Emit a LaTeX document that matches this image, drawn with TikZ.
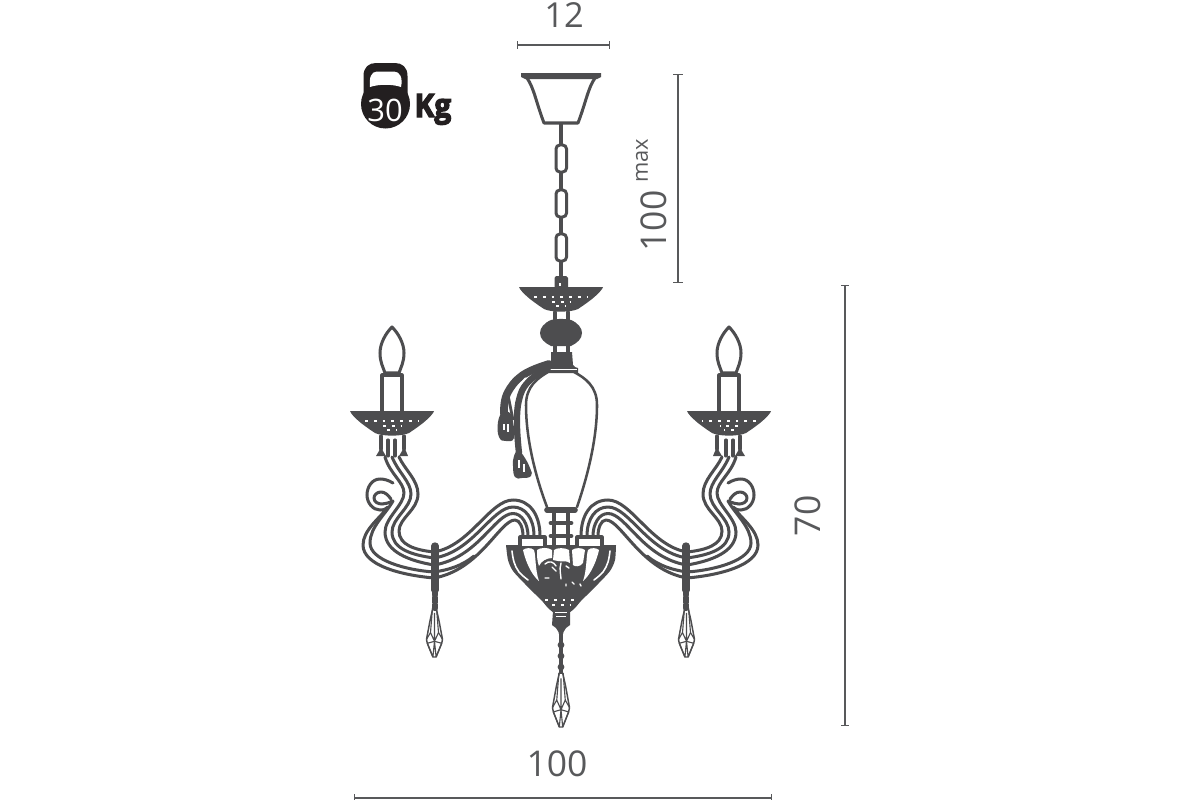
\documentclass[tikz,border=0pt]{standalone}
\usepackage{fontspec}
\setmainfont{Open Sans}
\newfontfamily\kgfont[FakeBold=4]{Open Sans Bold}
\usetikzlibrary{arrows.meta}
\definecolor{ink}{HTML}{4D4D4F}
\definecolor{kett}{HTML}{231F20}
\definecolor{dimc}{HTML}{58595B}
\tikzset{
  tube/.style={draw=ink,line width=.86pt,line cap=round,line join=round},
  thin tube/.style={draw=ink,line width=.5pt,line join=round},
  speck/.style={draw=white,line width=.32pt},
  dots/.style={draw=white,line width=.32pt,dash pattern=on .8pt off 1.7pt},
  dim/.style={draw=dimc,line width=.34pt,{Bar[width=2pt,line width=.34pt]}-{Bar[width=2pt,line width=.34pt]}},
  dimtext/.style={inner sep=0pt,text=dimc,font=\fontsize{10.1}{12}\selectfont},
}
\newcommand{\dishcup}[2]{%
  \begin{scope}[shift={(#1,#2)}]
    \fill[ink] (-42,0) -- (42,0) -- (41,2) .. controls (36,9) and (26,16) .. (17,22) .. controls (10,25.5) and (-10,25.5) .. (-17,22) .. controls (-26,16) and (-36,9) .. (-41,2) -- cycle;
    \draw[dots] (-27,10) -- (27,10);
    \draw[dots] (-9,15) -- (9,15);
    \draw[dots] (-5,19) -- (5,19);
  \end{scope}}
\newcommand{\crystal}[4]{% cx, top, height, halfwidth
  \begin{scope}[shift={(#1,#2)},xscale=#4,yscale=#3]
    \draw[thin tube,line width=.42pt] (-.2,0) -- (.2,0) -- (.55,.25) -- (1,.64) -- (.9,.72) -- (.2,1) -- (-.2,1) -- (-.9,.72) -- (-1,.64) -- (-.55,.25) -- cycle;
    \draw[thin tube,line width=.32pt] (-.25,0) -- (-.5,.5) -- (0,.68) -- (.5,.5) -- (.25,0) (-1,.64) -- (-.5,.5) (1,.64) -- (.5,.5) (-.9,.72) -- (0,.68) -- (.9,.72) (-.9,.72) -- (-.2,1) (.9,.72) -- (.2,1) (0,.68) -- (-.2,1) (0,.68) -- (.2,1) (0,.1) -- (0,.68);
  \end{scope}}
\newcommand{\armside}{%
  % candle
  \draw[tube] (392,327) .. controls (386,333) and (380,343) .. (380,353) .. controls (380,362) and (383,367) .. (385,373) -- (399,373) .. controls (401,367) and (404,362) .. (404,353) .. controls (404,343) and (398,333) .. (392,327) -- cycle;
  \draw[tube] (382,411) -- (382,375) -- (402,375) -- (402,411);
  \dishcup{392}{411}
  % fitting below the cup
  \draw[tube] (381,436) -- (381,449) (404,436) -- (404,449) (388,440) -- (388,456) (395,440) -- (395,456);
  \fill[ink] (376,456) .. controls (378,453) and (380,450) .. (381,445) .. controls (382,450) and (384,453) .. (386,456) -- cycle;
  \fill[ink] (399,456) .. controls (401,453) and (403,450) .. (404,445) .. controls (405,450) and (407,453) .. (408,456) -- cycle;
  % S-curves towards the candle
  \draw[tube] (399,457) .. controls (405,470) and (418,480) .. (418,494) .. controls (418,510) and (399,518) .. (399,531) .. controls (399,545) and (415,550) .. (434,552);
  \draw[tube] (392,457) .. controls (398,472) and (411,482) .. (411,494) .. controls (411,508) and (392,518) .. (392,532) .. controls (392,549) and (412,555) .. (434,558);
  \draw[tube] (385,457) .. controls (390,474) and (404,482) .. (404,493) .. controls (404,505) and (385,518) .. (385,532) .. controls (385,552) and (410,561) .. (434,565);
  % scroll
  \draw[tube] (393,483) .. controls (388,480) and (384,479) .. (380,479) .. controls (372,479) and (367,487) .. (367,495) .. controls (367,503) and (373,510) .. (380,510) .. controls (384,510) and (386,509) .. (388,507) .. controls (380,518) and (363,530) .. (363,545) .. controls (363,565) and (400,575) .. (434,578);
  \draw[tube] (391,499) .. controls (388,495) and (385,492) .. (381,492) .. controls (377,492) and (374,495) .. (374,498) .. controls (374,502) and (378,504) .. (382,504) .. controls (385,504) and (388,503) .. (393,501) .. controls (385,515) and (370,527) .. (370,543) .. controls (370,560) and (405,570) .. (434,572);
  % arcs to the bowl
  \draw[tube] (434,552) .. controls (470,546) and (490,500) .. (513,500) .. controls (530,500) and (540,515) .. (540,536);
  \draw[tube] (434,558) .. controls (473,552) and (492,507) .. (513,507) .. controls (525,507) and (534,518) .. (534,536);
  \draw[tube] (434,565) .. controls (478,558) and (495,513.5) .. (513,513.5) .. controls (522,513.5) and (528,524) .. (528,536);
  \draw[tube] (434,578) .. controls (480,570) and (500,520) .. (515,520) .. controls (520,520) and (523,528) .. (523,536);
  \draw[tube] (434,572) .. controls (448,570) and (462,566) .. (474,556);
  % bar and crystal
  \draw[ink,line width=2.1pt,line cap=round] (435,546) -- (435,590);
  \draw[ink,line width=1.8pt,line cap=round,dash pattern=on 1.4pt off .7pt] (435,590) -- (435,608);
  \crystal{434.5}{608}{49}{8}
}
\newcommand{\halfbowl}{%
  \fill[white] (520,537) rectangle (545,546);
  \draw[tube] (520,546) -- (520,537) -- (545,537) -- (545,546);
  \draw[speck,line width=.45pt,line cap=round] plot[smooth,tension=.6] coordinates {(512,551) (514,562) (519,572) (528,580)};
  \fill[white] (523,550) .. controls (525,548) and (531,547) .. (534,550) .. controls (536,556) and (535,570) .. (539,581) .. controls (534,577) and (527,567) .. (523,550) -- cycle;
}
\begin{document}
\begin{tikzpicture}[x=.01cm,y=-.01cm]
\useasboundingbox (0,0) rectangle (1200,800);

% ---------- dimensions
\coordinate (w1) at (517,45); \coordinate (w2) at (610,45);
\draw[dim] (w1) -- (w2);
\node[dimtext,font=\fontsize{9.8}{12}\selectfont] (t12) at (564,15) {12};
\coordinate (h1) at (678,74); \coordinate (h2) at (678,283);
\draw[dim,{Bar[width=2.8pt,line width=.34pt]}-{Bar[width=2.8pt,line width=.34pt]}] (h1) -- (h2);
\node[dimtext,rotate=90] (t100a) at (653.5,221) {100};
\node[dimtext,rotate=90,font=\fontsize{6.2}{8}\selectfont] (tmax) at (642,161) {max};
\coordinate (v1) at (845,285); \coordinate (v2) at (845,726);
\draw[dim] (v1) -- (v2);
\node[dimtext,rotate=90] (t70) at (807.5,516) {70};
\coordinate (b1) at (354,798); \coordinate (b2) at (772,798);
\draw[dim] (b1) -- (b2);
\node[dimtext] (t100b) at (557,764) {100};

% ---------- kettlebell
\fill[kett] (385.5,104) circle (24.5);
\fill[kett] (363.5,100) -- (363.5,76) .. controls (363.5,67) and (369,63) .. (376,63) -- (395,63) .. controls (402,63) and (407.5,67) .. (407.5,76) -- (407.5,100) -- cycle;
\fill[white] (370,87) .. controls (369,78) and (371,71.5) .. (377,71.5) -- (394,71.5) .. controls (400,71.5) and (403,78) .. (401,87) .. controls (392,84) and (379,84) .. (370,87) -- cycle;
\node[inner sep=0pt,text=white,font=\fontsize{8.8}{10}\selectfont] (t30) at (385,110) {30};
\node[inner sep=0pt,text=kett,anchor=base west,font=\fontsize{9.2}{11}\kgfont,xscale=.92] (tkg) at (414,117) {Kg};

% ---------- ceiling cup and chain
\draw[tube] (527,78) .. controls (534,88) and (536,102) .. (544,123) -- (578,123) .. controls (586,102) and (588,88) .. (595,78);
\fill[ink] (521,73) -- (601,73) -- (601,77) -- (597,79) -- (525,79) -- (521,77) -- cycle;
\draw[ink,line width=.95pt] (561,123) -- (561,276);
\foreach \ly in {145,190,234}{
  \fill[white] (557,\ly+1) rectangle (565,\ly+26);
  \draw[ink,line width=.85pt,rounded corners=1.1pt] (556,\ly) rectangle (566.5,\ly+27);
}
\fill[ink] (554.5,278) -- (556,276) -- (566,276) -- (568,278) -- (568,288) -- (554.5,288) -- cycle;
\fill[white] (559,283) rectangle (561,286);
\dishcup{561}{287}

% ---------- ball and collar
\draw[tube] (555,312) -- (555,322) (568,312) -- (568,322);
\fill[ink] (551,320) .. controls (557,318.5) and (565,318.5) .. (571,320) .. controls (578,323) and (582,328) .. (582,333) .. controls (582,339) and (577,343) .. (571,346) -- (551,346) .. controls (545,343) and (540,339) .. (540,333) .. controls (540,328) and (544,323) .. (551,320) -- cycle;
\draw[tube] (555,346) -- (555,353) (568,346) -- (568,353);
\fill[ink] (551,352) -- (572,352) -- (573,365) -- (575,367) -- (578,368) -- (578,373) -- (545,373) -- (545,366) -- (551,362) -- cycle;
\draw[white,line width=.4pt] (546,369.7) -- (577,369.7);

% ---------- vase
\draw[tube,line width=.72pt] (548,372) .. controls (538,378) and (526,386) .. (526,405) .. controls (526,440) and (536,478) .. (547,507);
\draw[tube,line width=.72pt] (574,372) .. controls (585,378) and (597,386) .. (597,405) .. controls (597,440) and (587,478) .. (577,507);

% ---------- tassels
\draw[ink,line width=2.2pt,line cap=round] plot[smooth,tension=.7] coordinates {(549,364) (523,375) (507,394) (504,414)};
\draw[ink,line width=1.8pt,line cap=round] plot[smooth,tension=.7] coordinates {(548,368) (528,382) (519,400) (517,425) (519,453)};
\draw[white,line width=.55pt] plot[smooth,tension=.7] coordinates {(526,378) (515,392) (511,408)};
\draw[ink,line width=.8pt] (508,395) -- (513,420);
\fill[ink] plot[smooth cycle,tension=.8] coordinates {(503,412) (510,413) (513,422) (514,438) (506,441) (499,437) (498,422)};
\fill[ink] plot[smooth cycle,tension=.8] coordinates {(518,451) (523,455) (530,468) (531,476) (522,478) (515,477) (513,466) (514,456)};
\draw[speck] (504,424) -- (504,430) (508,424) -- (508,432) (519,460) -- (519,468) (524,464) -- (524,472);

% ---------- arms
\armside
\begin{scope}[shift={(1121,0)},xscale=-1]
  \armside
\end{scope}

% ---------- column under the vase
\fill[white] (553,512) rectangle (569,547);
\draw[tube] (554,510) -- (554,548) (568,510) -- (568,548);
\draw[ink,line width=1.6pt,line cap=round] (547,510) -- (575,510);
\draw[ink,line width=1.35pt,line cap=round] (551,523) -- (571,523);
\draw[ink,line width=1.35pt,line cap=round] (551,536) -- (571,536);

% ---------- bowl
\fill[ink] plot[smooth,tension=.45] coordinates {(506,545) (508,560) (513,571) (525,584) (535,594) (543,602) (548,608) (555,613) (568,613) (575,608) (580,602) (588,594) (598,584) (610,571) (615,560) (616,545)} -- cycle;
\halfbowl
\begin{scope}[shift={(1122,0)},xscale=-1]
  \halfbowl
\end{scope}
\fill[white] (537,550) .. controls (540,547.5) and (548,547) .. (552,550) -- (552,558) .. controls (547,558) and (541,561) .. (539,566) .. controls (537,561) and (537,556) .. (537,550) -- cycle;
\fill[white] (554,550) .. controls (557,547.5) and (565,547.5) .. (569,550) -- (570,563) .. controls (566,560) and (561,562) .. (558,561) .. controls (556,560) and (555,560) .. (553,560) -- cycle;
\fill[white] (572,550) .. controls (575,547.5) and (582,547.5) .. (585,550) -- (583,563) .. controls (580,567) and (575,567) .. (573,565) -- cycle;
\draw[speck,line width=.4pt,line cap=round] (545,564) .. controls (549,560) and (554,562) .. (556,566) (552,567) -- (556,571) (561,563) .. controls (559,570) and (561,575) .. (561,579) (566,566) -- (569,568) (545,578) -- (549,578) (572,582) -- (574,584) (580,584) -- (581,586) (566,584) -- (566,586);
\draw[dots] (545,600) -- (577,600);
\draw[dots] (552,605) -- (570,605);

% ---------- neck and lower chain
\fill[ink] (553,611) -- (570,611) -- (570,625) -- (566,628) -- (561,636) -- (556,628) -- (552,625) -- cycle;
\draw[white,line width=.45pt] (555,612.5) -- (567,612.5) (556,616.5) -- (566,616.5);
\draw[ink,line width=.9pt] (561,630) -- (561,674);
\foreach \by in {645,656,667}{\fill[ink] (561,\by) circle (3.4);}
\fill[ink] (561,633) circle (2.4);
\crystal{561}{673}{54}{8.5}

\end{tikzpicture}
\end{document}
